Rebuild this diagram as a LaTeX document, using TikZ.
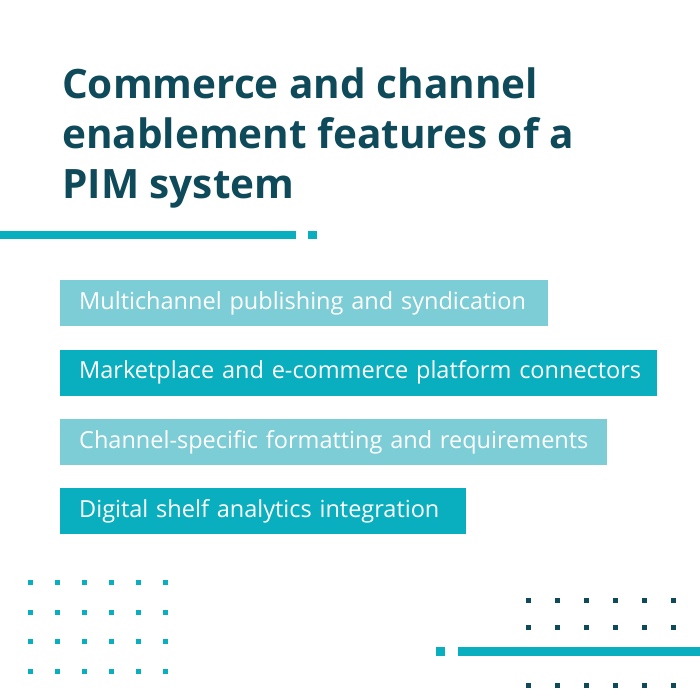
\documentclass[tikz,border=0pt]{standalone}
\usepackage{fontspec}
\setmainfont{Open Sans}
\usetikzlibrary{positioning}
\definecolor{darkteal}{HTML}{0E4A5A}
\definecolor{teal}{HTML}{0AAFBF}
\definecolor{lightteal}{HTML}{7DCDD6}
\tikzset{featbox/.style={anchor=north west,text=white,font=\fontsize{23.5}{24}\selectfont,minimum height=46pt,inner xsep=19pt,align=left,text width=#1}}
\begin{document}
\begin{tikzpicture}[x=1pt,y=-1pt,
  every node/.style={inner sep=0pt}]
\useasboundingbox (0,0) rectangle (700,699);
% title
\node[anchor=north west,align=left,text=darkteal,font=\fontsize{40.5}{50}\selectfont\bfseries] (title) at (62,68)
  {Commerce and channel\\enablement features of a\\PIM system};
\fill[teal] (0,231) rectangle (296,239);
\fill[teal] (308,231) rectangle (317,239);
% feature boxes
\node[featbox=450pt,fill=lightteal] (f1) at (60,280) {\makebox[450pt][l]{Multichannel publishing and syndication}};
\node[featbox=559pt,fill=teal,below=23pt of f1.south west,anchor=north west] (f2) {\makebox[559pt][l]{Marketplace and e-commerce platform connectors}};
\node[featbox=509pt,fill=lightteal,below=23pt of f2.south west,anchor=north west] (f3) {\makebox[509pt][l]{Channel-specific formatting and requirements}};
\node[featbox=368pt,fill=teal,below=23pt of f3.south west,anchor=north west] (f4) {\makebox[368pt][l]{Digital shelf analytics integration}};
% dots
\foreach \r in {0,...,3}
  \foreach \c in {0,...,5}
    \fill[teal] (28+27*\c,580+29.7*\r) rectangle ++(5,5);
\foreach \r/\y in {0/598,1/625,2/683}
  \foreach \c in {0,...,5}
    \fill[darkteal] (526+29*\c,\y) rectangle ++(5,5);
\fill[teal] (436,647) rectangle (445,656);
\fill[teal] (458,647) rectangle (700,656);
\end{tikzpicture}
\end{document}
